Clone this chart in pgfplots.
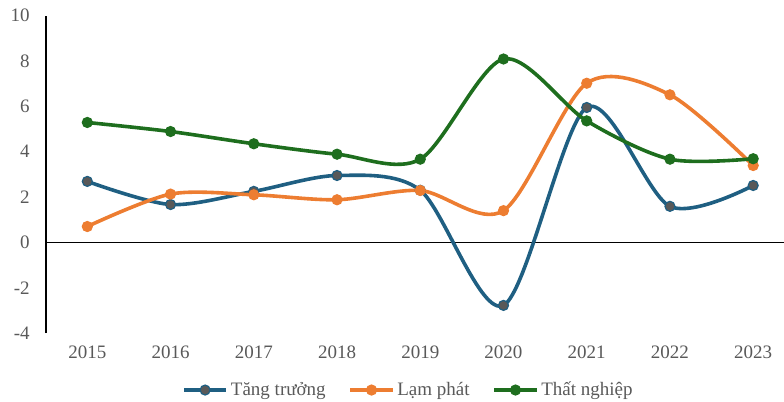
\documentclass[border=0pt]{standalone}
\usepackage{pgfplots}
\pgfplotsset{compat=1.18}
\usepackage{fontspec}
\setmainfont{Liberation Serif}

\definecolor{tang}{HTML}{1F5F82}
\definecolor{tangmark}{HTML}{595959}
\definecolor{lam}{HTML}{ED7D31}
\definecolor{that}{HTML}{1E6E1E}
\definecolor{txt}{HTML}{595959}

\pgfplotstableread{
x  tang   lam    that
0  2.69   0.70   5.29
1  1.67   2.13   4.89
2  2.25   2.10   4.35
3  2.95   1.88   3.89
4  2.30   2.29   3.67
5  -2.78  1.40   8.09
6  5.95   7.02   5.36
7  1.59   6.51   3.67
8  2.51   3.39   3.69
}\datatable

\begin{document}
\begin{tikzpicture}
\begin{axis}[
    at={(0,0)}, anchor=south west,
    scale only axis,
    width=369.2pt, height=158.7pt,
    xmin=-0.5, xmax=8.37,
    ymin=-4, ymax=10,
    ytick={-4,-2,...,10},
    xtick=data,
    xticklabels={2015,2016,2017,2018,2019,2020,2021,2022,2023},
    axis y line*=left,
    axis x line*=bottom,
    x axis line style={draw=none},
    y axis line style={black, line width=1pt, -},
    major tick length=0pt,
    tick label style={font=\fontsize{9.5}{11}\selectfont, text=txt},
    /pgf/number format/assume math mode=true,
    yticklabel style={xshift=-4.5pt},
    xticklabel style={yshift=-3pt},
    extra y ticks={0},
    extra y tick labels={},
    extra y tick style={grid=major, major grid style={black, line width=0.8pt}},
    clip=false,
    every axis plot/.append style={smooth, tension=0.5, line width=1.8pt,
        mark=*, mark size=2.5pt},
    legend style={at={(0.492,0)}, anchor=center, yshift=-28.5pt,
        draw=none, fill=none, font=\fontsize{9.5}{11}\selectfont, text=txt,
        legend columns=3, /tikz/every even column/.append style={column sep=10pt},
        inner sep=0pt, nodes={inner xsep=1.5pt}},
    legend image code/.code={
        \draw[mark repeat=2, mark phase=2, #1] plot coordinates {(0cm,0cm) (0.37cm,0cm) (0.74cm,0cm)};},
]
\addplot[tang, mark options={solid, fill=tangmark, draw=tang, line width=0.6pt}] table[x=x, y=tang] {\datatable};
\addlegendentry{Tăng trưởng}
\addplot[lam, mark options={solid, fill=lam, draw=lam, line width=0.6pt}] table[x=x, y=lam] {\datatable};
\addlegendentry{Lạm phát}
\addplot[that, mark options={solid, fill=that, draw=that, line width=0.6pt}] table[x=x, y=that] {\datatable};
\addlegendentry{Thất nghiệp}
\end{axis}
\pgfresetboundingbox
\path[use as bounding box] (-22.85pt,-34pt) rectangle (369.2pt,166.55pt);
\end{tikzpicture}
\end{document}
